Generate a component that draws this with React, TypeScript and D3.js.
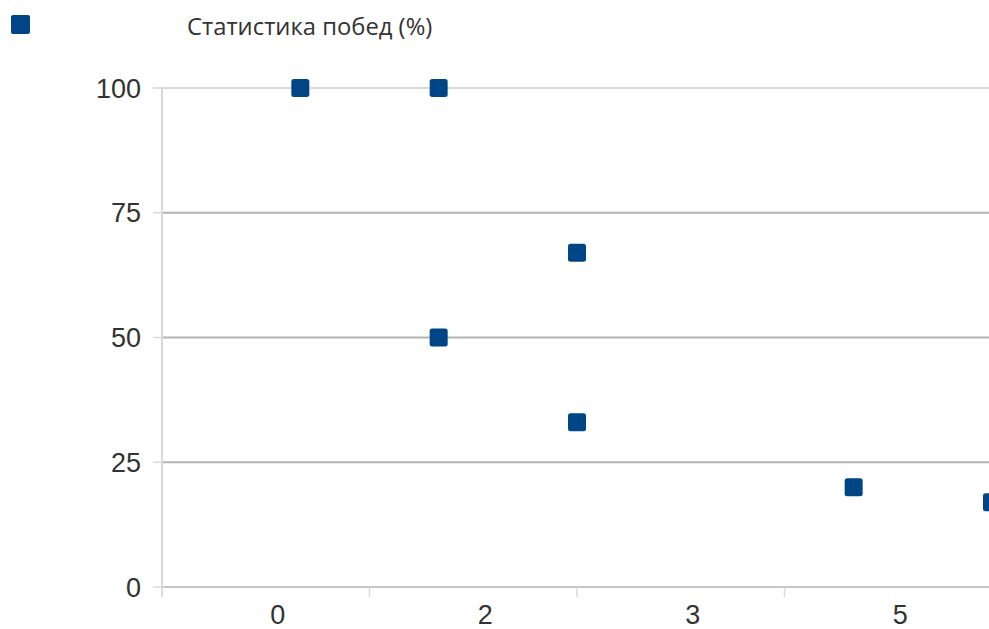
import React from "react";
import * as d3 from "d3";

const xValues = [1, 2, 2, 3, 3, 5, 6];
const winRates = [100, 100, 50, 67, 33, 20, 17];
const yTicks = [0, 25, 50, 75, 100];
const xTicks = [0, 1.5, 3, 4.5, 6];
const xTickLabels = ["0", "2", "3", "5"];
const legendLabel = "Статистика побед (%)";

const W = 989;
const H = 629;

export default function App() {
  const x = d3.scaleLinear().domain([0, 6]).range([162, 992]);
  const y = d3.scaleLinear().domain([0, 100]).range([587, 88]);
  const ms = 18;
  const color = "#004586";
  const axisFont = "'Liberation Sans', Arial, sans-serif";

  return (
    <svg width={W} height={H} style={{ position: "absolute", left: 0, top: 0 }}>
      <rect width={W} height={H} fill="#fff" />
      {/* legend */}
      <rect x={11} y={15} width={19} height={19} rx={2} fill={color} />
      <text x={187} y={35} fontFamily="'Open Sans', 'Noto Sans', sans-serif" fontSize={23.8} fill="#333">
        {legendLabel}
      </text>
      {/* gridlines */}
      {yTicks.map((t) => (
        <line
          key={"g" + t}
          x1={x(0)}
          x2={W}
          y1={y(t)}
          y2={y(t)}
          stroke={t === 100 ? "#d9d9d9" : "#b3b3b3"}
          strokeWidth={t === 0 ? 1.5 : 2}
        />
      ))}
      {/* y axis */}
      <line x1={x(0)} x2={x(0)} y1={y(100)} y2={y(0) + 10} stroke="#d9d9d9" strokeWidth={2} />
      {yTicks.map((t) => (
        <g key={"yt" + t}>
          <line x1={153} x2={x(0)} y1={y(t)} y2={y(t)} stroke="#d9d9d9" strokeWidth={1.5} />
          <text
            x={141}
            y={y(t)}
            dy="0.36em"
            textAnchor="end"
            fontFamily={axisFont}
            fontSize={27}
            fill="#333"
          >
            {t}
          </text>
        </g>
      ))}
      {/* x ticks */}
      {xTicks.map((t) => (
        <line key={"xt" + t} x1={x(t)} x2={x(t)} y1={y(0)} y2={y(0) + 10} stroke="#d9d9d9" strokeWidth={1.5} />
      ))}
      {xTickLabels.map((l, i) => (
        <text
          key={"xl" + i}
          x={(x(xTicks[i]) + x(xTicks[i + 1])) / 2 + 12}
          y={624}
          textAnchor="middle"
          fontFamily={axisFont}
          fontSize={27}
          fill="#333"
        >
          {l}
        </text>
      ))}
      {/* points */}
      {xValues.map((v, i) => (
        <rect
          key={"p" + i}
          x={x(v) - ms / 2}
          y={y(winRates[i]) - ms / 2}
          width={ms}
          height={ms}
          rx={2.5}
          fill={color}
        />
      ))}
    </svg>
  );
}
